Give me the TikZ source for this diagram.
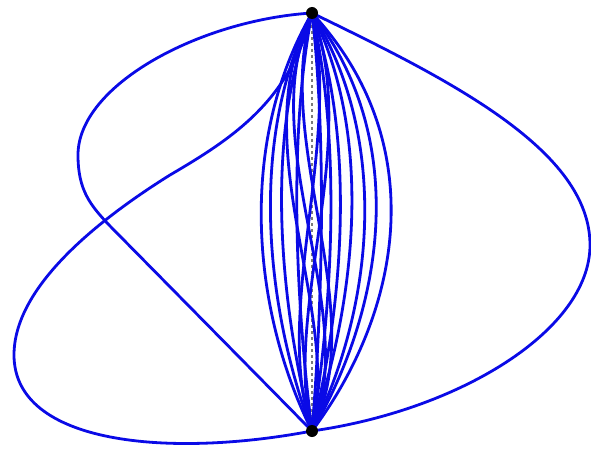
\documentclass[tikz,border=0pt]{standalone}
\usepackage{tikz}
\usetikzlibrary{positioning,backgrounds}
\definecolor{edgeblue}{HTML}{0A0AE6}
\definecolor{edgegrey}{HTML}{7A7A7A}

\begin{document}
\begin{tikzpicture}[x=1pt,y=-1pt,
  vtx/.style={circle,fill=black,inner sep=0pt,minimum size=12pt},
  edge/.style={draw=edgeblue,line width=2.8pt},
  straight/.style={draw=edgegrey,dashed,line width=1.2pt}]

  \useasboundingbox (0,0) rectangle (591,449);

  \node[vtx] (top) at (312,13) {};
  \node[vtx] (bot) at (312,431) {};

  \begin{scope}[on background layer]
    \draw[straight] (top.center) -- (bot.center);

    % outer loops
    \draw[edge] (top.center) .. controls (200,20) and (78,85) .. (78,155)
      .. controls (78,190) and (90,205) .. (110,226)
      .. controls (180,297) and (250,368) .. (bot.center);
    \draw[edge] (bot.center) .. controls (170,458) and (14,445) .. (14,355)
      .. controls (14,290) and (90,225) .. (170,175)
      .. controls (235,137) and (290,100) .. (top.center);
    \draw[edge] (top.center) .. controls (450,80) and (590,150) .. (590,245)
      .. controls (590,330) and (460,410) .. (bot.center);

    % inner bundle
    \foreach \a/\b in {120/90,100/70,80/60,65/40,45/30,30/20,15/10,
                       -75/-60,-65/-45,-50/-30,-25/-15,
                       -60/50,-40/60,-70/30,30/-40,50/-30}
      \draw[edge] (top.center) .. controls +(\a,130) and +(\b,-120) .. (bot.center);
  \end{scope}
\end{tikzpicture}
\end{document}
